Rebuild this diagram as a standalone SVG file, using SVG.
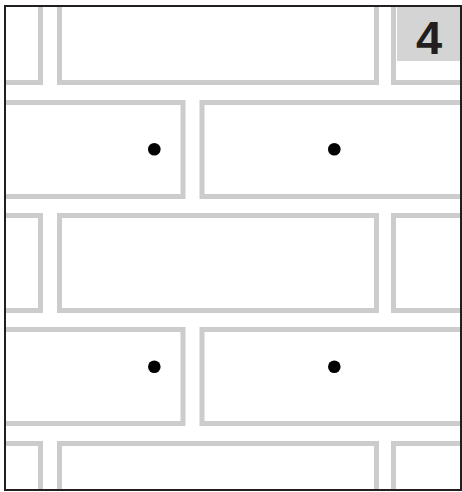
<svg xmlns="http://www.w3.org/2000/svg" width="462" height="492" viewBox="0 0 462 492">
<style>
.brick{fill:none;stroke:#cccccc;stroke-width:5}
.dot{fill:#000}
.frame{fill:none;stroke:#231f20;stroke-width:2}
.label{font-family:"Liberation Sans",Arial,sans-serif;font-weight:bold;font-size:47px;fill:#231f20}
</style>
<defs>
<clipPath id="clip"><rect x="5" y="6" width="456" height="484"/></clipPath>
</defs>
<rect x="0" y="0" width="462" height="492" fill="#fff"/>
<g clip-path="url(#clip)">
<g id="row1">
<rect class="brick" x="-276.5" y="-12" width="317" height="94.5"/>
<rect class="brick" x="59.5" y="-12" width="317" height="94.5"/>
<rect class="brick" x="393.5" y="-12" width="317" height="94.5"/>
</g>
<g id="row2">
<rect class="brick" x="-134" y="102.5" width="317" height="94"/>
<rect class="brick" x="202" y="102.5" width="317" height="94"/>
</g>
<g id="row3">
<rect class="brick" x="-276.5" y="215.5" width="317" height="95"/>
<rect class="brick" x="59.5" y="215.5" width="317" height="95"/>
<rect class="brick" x="393.5" y="215.5" width="317" height="95"/>
</g>
<g id="row4">
<rect class="brick" x="-134" y="329.5" width="317" height="94"/>
<rect class="brick" x="202" y="329.5" width="317" height="94"/>
</g>
<g id="row5">
<rect class="brick" x="-276.5" y="443.5" width="317" height="95"/>
<rect class="brick" x="59.5" y="443.5" width="317" height="95"/>
<rect class="brick" x="393.5" y="443.5" width="317" height="95"/>
</g>
</g>
<g id="dots">
<circle class="dot" cx="154.3" cy="149.3" r="6.3"/>
<circle class="dot" cx="334.3" cy="149.3" r="6.3"/>
<circle class="dot" cx="154.3" cy="366.7" r="6.3"/>
<circle class="dot" cx="334.3" cy="366.7" r="6.3"/>
</g>
<g id="label">
<rect x="397" y="6" width="63" height="55" fill="#d4d4d4"/>
<text class="label" x="429" y="54" text-anchor="middle">4</text>
</g>
<rect class="frame" x="5" y="6" width="456" height="484"/>
</svg>
